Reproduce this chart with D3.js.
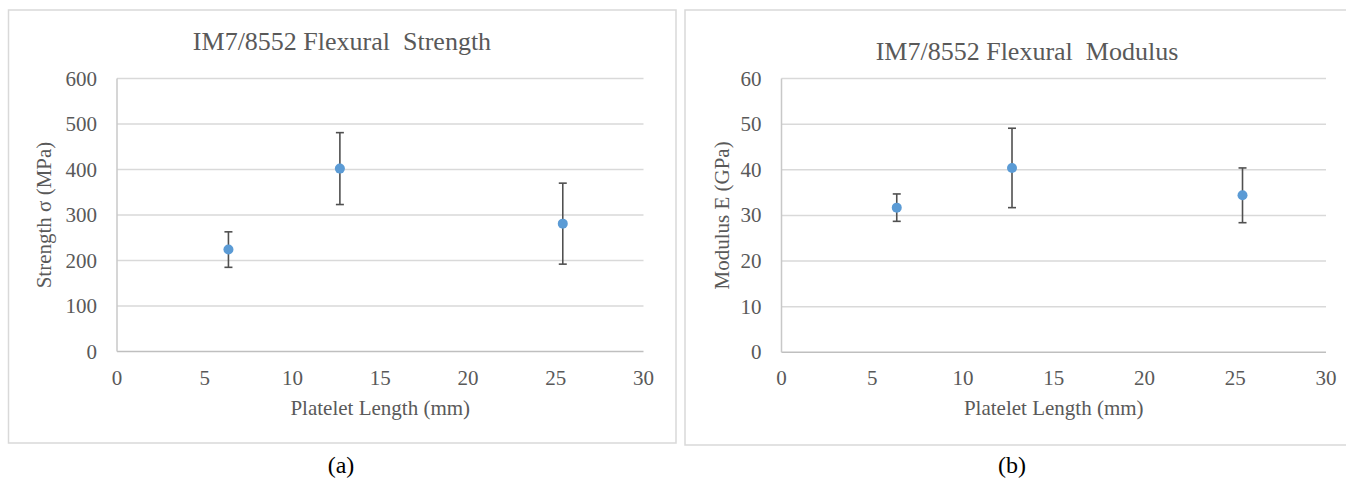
<!DOCTYPE html>
<html>
<head>
<meta charset="utf-8">
<script src="https://cdn.jsdelivr.net/npm/d3@7"></script>
<style>
  html, body { margin: 0; padding: 0; background: #ffffff; }
  svg { display: block; }
  text { font-family: "Liberation Serif", "Times New Roman", serif; }
</style>
</head>
<body>
<svg id="chart" width="1346" height="480"></svg>
<script>
// ---- data ----
const plateletLength = [6.35, 12.7, 25.4];
const strengthMean = [224, 402, 281];
const strengthErr = [39, 79, 89];
const modulusMean = [31.7, 40.4, 34.4];
const modulusErr = [3.0, 8.7, 6.0];
const xTicks = [0, 5, 10, 15, 20, 25, 30];
const strengthTicks = [0, 100, 200, 300, 400, 500, 600];
const modulusTicks = [0, 10, 20, 30, 40, 50, 60];

const svg = d3.select("#chart");
const textColor = "#595959";
const gridColor = "#d9d9d9";
const pointColor = "#5b9bd5";
const errColor = "#505050";

function panel(cfg) {
  const g = svg.append("g");
  // panel border
  g.append("rect")
    .attr("x", cfg.box[0]).attr("y", cfg.box[1])
    .attr("width", cfg.box[2]).attr("height", cfg.box[3])
    .attr("fill", "#fff").attr("stroke", "#d9d9d9").attr("stroke-width", 1.5);

  const x = d3.scaleLinear().domain([0, 30]).range(cfg.xr);
  const y = d3.scaleLinear().domain(cfg.ydom).range(cfg.yr);

  // gridlines
  g.append("g").selectAll("line").data(cfg.yTicks).join("line")
    .attr("x1", cfg.xr[0]).attr("x2", cfg.xr[1])
    .attr("y1", d => y(d)).attr("y2", d => y(d))
    .attr("stroke", d => d === 0 ? "#bfbfbf" : gridColor)
    .attr("stroke-width", 1.5);
  // left axis line
  g.append("line")
    .attr("x1", cfg.xr[0]).attr("x2", cfg.xr[0])
    .attr("y1", y(cfg.ydom[0])).attr("y2", y(cfg.ydom[1]))
    .attr("stroke", "#c8c8c8").attr("stroke-width", 1.5);

  // y tick labels
  g.append("g").selectAll("text").data(cfg.yTicks).join("text")
    .attr("x", cfg.xr[0] - 20).attr("y", d => y(d) + 7)
    .attr("text-anchor", "end").attr("fill", textColor)
    .attr("font-size", 21).text(d => d);
  // x tick labels
  g.append("g").selectAll("text").data(xTicks).join("text")
    .attr("x", d => x(d)).attr("y", 385)
    .attr("text-anchor", "middle").attr("fill", textColor)
    .attr("font-size", 21).text(d => d);

  // error bars
  const eb = g.append("g").attr("stroke", errColor).attr("stroke-width", 1.6);
  plateletLength.forEach((L, i) => {
    const m = cfg.mean[i], e = cfg.err[i];
    eb.append("line").attr("x1", x(L)).attr("x2", x(L)).attr("y1", y(m - e)).attr("y2", y(m + e));
    eb.append("line").attr("x1", x(L) - 4).attr("x2", x(L) + 4).attr("y1", y(m - e)).attr("y2", y(m - e));
    eb.append("line").attr("x1", x(L) - 4).attr("x2", x(L) + 4).attr("y1", y(m + e)).attr("y2", y(m + e));
  });
  // points
  g.append("g").selectAll("circle").data(plateletLength).join("circle")
    .attr("cx", d => x(d)).attr("cy", (d, i) => y(cfg.mean[i]))
    .attr("r", 5).attr("fill", pointColor);

  // title
  g.append("text").attr("x", cfg.titleX).attr("y", cfg.titleY)
    .attr("text-anchor", "middle").attr("fill", textColor)
    .attr("font-size", 26).attr("xml:space", "preserve").text(cfg.title);
  // x axis title
  g.append("text").attr("x", (cfg.xr[0] + cfg.xr[1]) / 2).attr("y", 415)
    .attr("text-anchor", "middle").attr("fill", textColor)
    .attr("font-size", 21).text("Platelet Length (mm)");
  // y axis title
  g.append("text")
    .attr("transform", `translate(${cfg.yLabelX},${(cfg.yr[0] + cfg.yr[1]) / 2}) rotate(-90)`)
    .attr("text-anchor", "middle").attr("dy", "0.35em").attr("fill", textColor)
    .attr("font-size", 21).text(cfg.yLabel);
  // caption
  g.append("text").attr("x", cfg.capX).attr("y", 473)
    .attr("text-anchor", "middle").attr("fill", "#000")
    .attr("font-size", 24).text(cfg.caption);
}

panel({
  box: [8.5, 10, 667.5, 433],
  xr: [117, 643.5], yr: [351.5, 78.5], ydom: [0, 600],
  yTicks: strengthTicks, mean: strengthMean, err: strengthErr,
  title: "IM7/8552 Flexural  Strength", titleX: 342, titleY: 49.5,
  yLabel: "Strength σ (MPa)", yLabelX: 44,
  caption: "(a)", capX: 341
});
panel({
  box: [685, 10, 700, 435],
  xr: [781.5, 1326], yr: [352.3, 78.5], ydom: [0, 60],
  yTicks: modulusTicks, mean: modulusMean, err: modulusErr,
  title: "IM7/8552 Flexural  Modulus", titleX: 1027, titleY: 60,
  yLabel: "Modulus E (GPa)", yLabelX: 722,
  caption: "(b)", capX: 1012
});
</script>
</body>
</html>
